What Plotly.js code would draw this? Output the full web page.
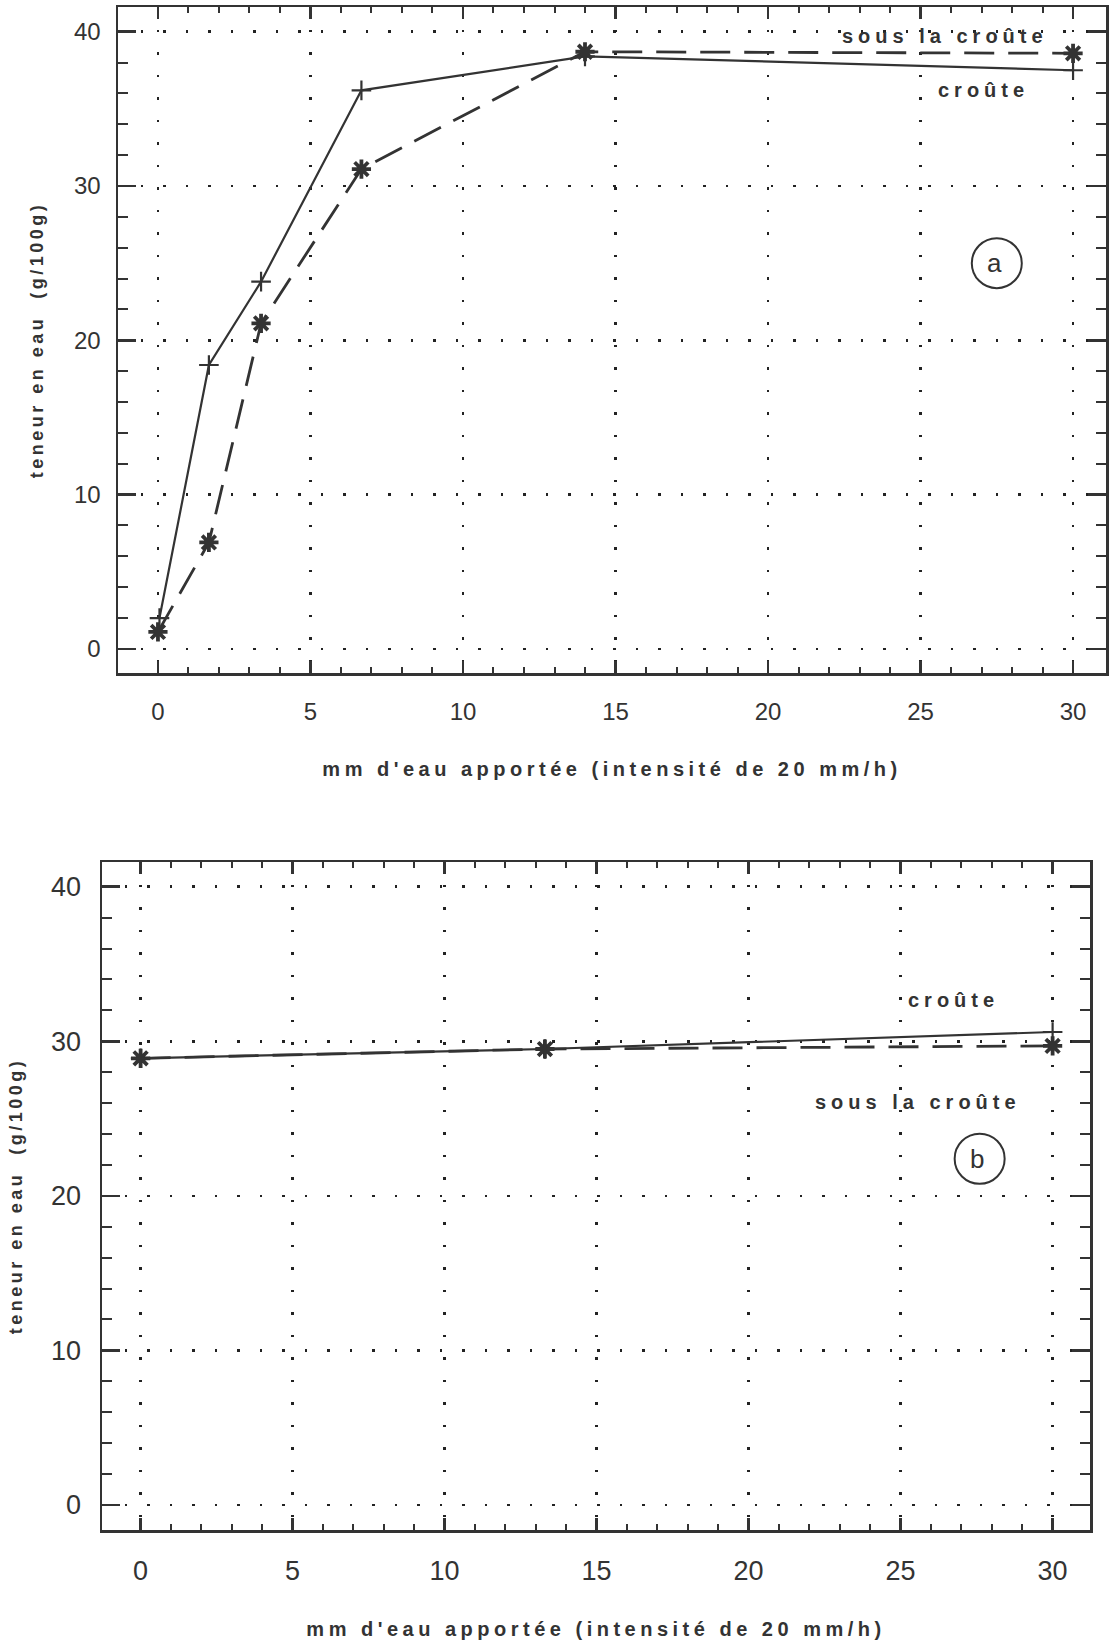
<!DOCTYPE html>
<html>
<head>
<meta charset="utf-8">
<script src="https://cdn.plot.ly/plotly-3.0.1.min.js"></script>
<style>
html, body { margin: 0; padding: 0; background: #ffffff; }
#chart { width: 1112px; height: 1652px; }
.xtitle, .x2title { letter-spacing: 4.5px; }
.ytitle, .y2title { letter-spacing: 3.5px; }
.annotation-text { letter-spacing: 5px; }
</style>
</head>
<body>
<div id="chart"></div>
<script>
// ---- Graph (a) ----
const xA_croute = [0.05, 1.67, 3.38, 6.67, 14.0, 30.0];
const yA_croute = [2.0, 18.4, 23.8, 36.2, 38.4, 37.5];
const xA_sous   = [0.0, 1.67, 3.38, 6.67, 14.0, 30.0];
const yA_sous   = [1.1, 6.9, 21.1, 31.1, 38.7, 38.6];

// ---- Graph (b) ----
const xB        = [0.0, 13.3, 30.0];
const yB_croute = [28.9, 29.5, 30.6];
const yB_sous   = [28.9, 29.5, 29.7];

// ---- ticks & labels ----
const xTickVals = [0, 5, 10, 15, 20, 25, 30];
const xTickText = ['0', '5', '10', '15', '20', '25', '30'];
const yTickVals = [0, 10, 20, 30, 40];
const yTickText = ['0', '10', '20', '30', '40'];
const xMinorVals = [1,2,3,4,6,7,8,9,11,12,13,14,16,17,18,19,21,22,23,24,26,27,28,29];
const yMinorVals = [2,4,6,8,12,14,16,18,22,24,26,28,32,34,36,38];

const xTitle = "mm d'eau apportée (intensité de 20 mm/h)";
const yTitle = "teneur en eau\u00a0 (g/100g)";
const nameCroute = "croûte";
const nameSous = "sous la croûte";

const INK = '#333333';
const NUM_FONT = '"Liberation Sans Narrow", "Liberation Sans", Arial, sans-serif';
const TXT_FONT = '"Liberation Sans", Arial, sans-serif';

function xAxis(domain, range, anchor, labelSize, labelStandoff, titleStandoff) {
  return {
    domain: domain, range: range, anchor: anchor,
    tickmode: 'array', tickvals: xTickVals, ticktext: xTickText,
    ticks: 'inside', ticklen: 12, tickwidth: 2.5, tickcolor: INK,
    showline: true, linewidth: 2.5, linecolor: INK, mirror: 'allticks',
    showgrid: true, gridcolor: '#222222', gridwidth: 2.5, griddash: '2.5px,20px',
    zeroline: false,
    tickfont: {family: NUM_FONT, size: labelSize, color: INK},
    ticklabelstandoff: labelStandoff,
    minor: {tickmode: 'array', tickvals: xMinorVals, ticks: 'inside', ticklen: 6,
            tickwidth: 2, tickcolor: INK, showgrid: false},
    title: {text: xTitle, standoff: titleStandoff,
            font: {family: TXT_FONT, size: 20, color: INK, weight: 'bold'}},
    automargin: false, fixedrange: true
  };
}
function yAxis(domain, range, anchor, labelSize, labelStandoff, titleStandoff) {
  return {
    domain: domain, range: range, anchor: anchor,
    tickmode: 'array', tickvals: yTickVals, ticktext: yTickText,
    ticks: 'inside', ticklen: 18, tickwidth: 2.5, tickcolor: INK,
    showline: true, linewidth: 2.5, linecolor: INK, mirror: 'allticks',
    showgrid: true, gridcolor: '#222222', gridwidth: 2.5, griddash: '2.5px,20px',
    zeroline: false,
    tickfont: {family: NUM_FONT, size: labelSize, color: INK},
    ticklabelstandoff: labelStandoff,
    minor: {tickmode: 'array', tickvals: yMinorVals, ticks: 'inside', ticklen: 10,
            tickwidth: 2, tickcolor: INK, showgrid: false},
    title: {text: yTitle, standoff: titleStandoff,
            font: {family: TXT_FONT, size: 18, color: INK, weight: 'bold'}},
    automargin: false, fixedrange: true
  };
}

const solidLine = {color: INK, width: 2.2};
const dashLine = {color: INK, width: 2.8, dash: '30px,14px'};
const plusMarker = {symbol: 'cross-thin-open', size: 14, color: INK, line: {color: INK, width: 2.2}};
const starMarker = {symbol: 'asterisk-open', size: 16, color: INK, line: {color: INK, width: 3.8}};

const traces = [
  {x: xA_croute, y: yA_croute, name: nameCroute, xaxis: 'x', yaxis: 'y', mode: 'lines+markers',
   line: solidLine, marker: plusMarker},
  {x: xA_sous, y: yA_sous, name: nameSous, xaxis: 'x', yaxis: 'y', mode: 'lines+markers',
   line: dashLine, marker: starMarker},
  {x: xB, y: yB_sous, name: nameSous, xaxis: 'x2', yaxis: 'y2', mode: 'lines+markers',
   line: dashLine, marker: starMarker},
  {x: xB, y: yB_croute, name: nameCroute, xaxis: 'x2', yaxis: 'y2', mode: 'lines+markers',
   line: solidLine, marker: plusMarker}
];

const W = 1112, H = 1652;
const annFont = {family: TXT_FONT, size: 20, color: INK, weight: 'bold'};
const layout = {
  width: W, height: H,
  margin: {l: 0, r: 0, t: 0, b: 0, pad: 0},
  paper_bgcolor: '#ffffff', plot_bgcolor: 'rgba(0,0,0,0)',
  showlegend: false,
  font: {family: TXT_FONT, color: INK},
  xaxis: xAxis([118 / W, 1106 / W], [-1.31, 31.08], 'y', 24, 16, 38),
  yaxis: yAxis([1 - 673 / H, 1 - 7 / H], [-1.56, 41.6], 'x', 24, 10, 26),
  xaxis2: xAxis([102 / W, 1090 / W], [-1.27, 31.23], 'y2', 27, 15, 37),
  yaxis2: yAxis([1 - 1530 / H, 1 - 862 / H], [-1.62, 41.6], 'x2', 27, 13, 24),
  shapes: [
    {type: 'circle', xref: 'x', yref: 'y', xsizemode: 'pixel', ysizemode: 'pixel',
     xanchor: 27.5, yanchor: 25.0, x0: -25, x1: 25, y0: -25, y1: 25,
     line: {color: INK, width: 2}},
    {type: 'circle', xref: 'x2', yref: 'y2', xsizemode: 'pixel', ysizemode: 'pixel',
     xanchor: 27.6, yanchor: 22.4, x0: -25, x1: 25, y0: -25, y1: 25,
     line: {color: INK, width: 2}}
  ],
  annotations: [
    {xref: 'x', yref: 'y', x: 25.8, y: 39.7, text: nameSous, showarrow: false, font: annFont},
    {xref: 'x', yref: 'y', x: 27.05, y: 36.2, text: nameCroute, showarrow: false, font: annFont},
    {xref: 'x', yref: 'y', x: 27.5, y: 25.0, text: 'a', showarrow: false,
     font: {family: NUM_FONT, size: 26, color: INK}},
    {xref: 'x2', yref: 'y2', x: 26.75, y: 32.7, text: nameCroute, showarrow: false, font: annFont},
    {xref: 'x2', yref: 'y2', x: 25.57, y: 26.1, text: nameSous, showarrow: false, font: annFont},
    {xref: 'x2', yref: 'y2', x: 27.6, y: 22.4, text: 'b', showarrow: false,
     font: {family: NUM_FONT, size: 26, color: INK}}
  ]
};

Plotly.newPlot('chart', traces, layout, {staticPlot: true, displayModeBar: false});
</script>
</body>
</html>
